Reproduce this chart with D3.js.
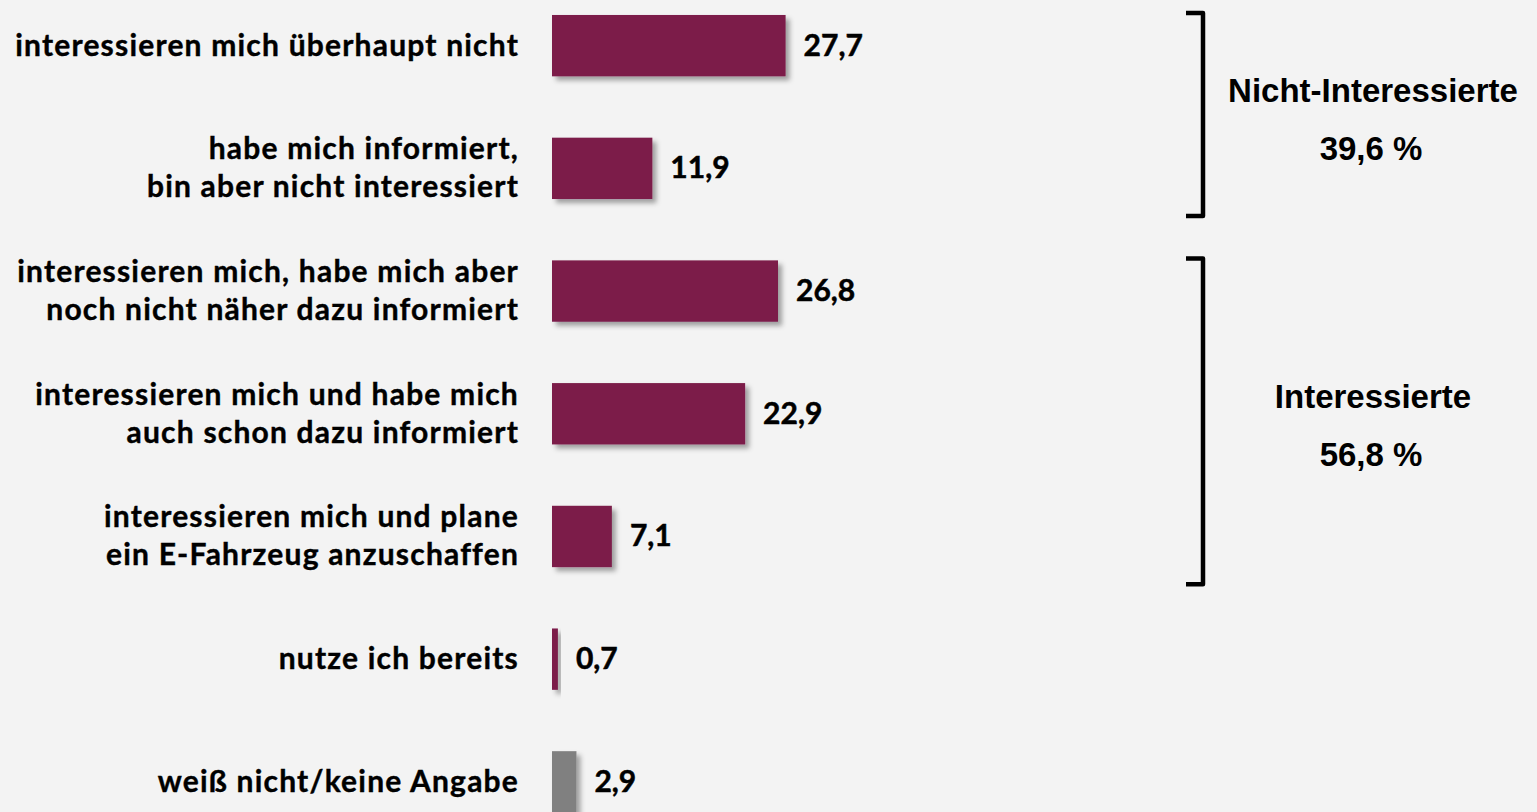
<!DOCTYPE html>
<html>
<head>
<meta charset="utf-8">
<script src="https://cdn.jsdelivr.net/npm/d3@7"></script>
<style>
  html, body { margin: 0; padding: 0; background: #f3f3f3; }
  svg { display: block; }
</style>
</head>
<body>
<div id="chart"></div>
<script>
// answers, one entry per bar (lines of the label)
const answers = [
  ["interessieren mich überhaupt nicht"],
  ["habe mich informiert,", "bin aber nicht interessiert"],
  ["interessieren mich, habe mich aber", "noch nicht näher dazu informiert"],
  ["interessieren mich und habe mich", "auch schon dazu informiert"],
  ["interessieren mich und plane", "ein E-Fahrzeug anzuschaffen"],
  ["nutze ich bereits"],
  ["weiß nicht/keine Angabe"]
];
const shares = [27.7, 11.9, 26.8, 22.9, 7.1, 0.7, 2.9];
const noAnswer = "weiß nicht/keine Angabe";

// bracket groups: first and last answer index
const groupNames = ["Nicht-Interessierte", "Interessierte"];
const groupTotals = ["39,6 %", "56,8 %"];
const groupSpans = [[0, 1], [2, 4]];

const width = 1537, height = 812;
const data = answers.map((lines, i) => ({ id: i, lines, value: shares[i] }));

const de = d3.formatLocale({ decimal: ",", thousands: ".", grouping: [3], currency: ["", " €"] });
const fmt = de.format(".1f");

const svg = d3.select('#chart').append('svg')
  .attr('width', width).attr('height', height);

svg.append('rect').attr('width', width).attr('height', height).attr('fill', '#f3f3f3');

const defs = svg.append('defs');
defs.append('filter').attr('id', 'shadow')
  .attr('x', '-20%').attr('y', '-20%').attr('width', '160%').attr('height', '160%')
  .append('feDropShadow')
  .attr('dx', 4).attr('dy', 4).attr('stdDeviation', 2.5)
  .attr('flood-color', '#000').attr('flood-opacity', 0.35);

const xScale = d3.scaleLinear().domain([0, 30]).range([552, 805]);
const yScale = d3.scaleBand()
  .domain(data.map(d => d.id))
  .range([-15.7, 843.2])
  .paddingInner(0.5)
  .paddingOuter(0.25);

const bw = yScale.bandwidth();

// bars
svg.append('g').selectAll('rect')
  .data(data)
  .join('rect')
  .attr('x', xScale(0))
  .attr('y', d => yScale(d.id))
  .attr('width', d => xScale(d.value) - xScale(0))
  .attr('height', bw)
  .attr('fill', d => d.lines[0] === noAnswer ? '#808080' : '#7b1c4a')
  .attr('filter', 'url(#shadow)');

// value labels
svg.append('g').selectAll('text')
  .data(data)
  .join('text')
  .attr('x', d => xScale(d.value) + 18)
  .attr('y', d => yScale(d.id) + bw / 2 + 10)
  .style('font-family', 'Lato, sans-serif')
  .style('font-weight', 'bold')
  .style('font-size', '30px')
  .attr('fill', '#000')
  .attr('stroke', '#000').attr('stroke-width', 0.5)
  .text(d => fmt(d.value));

// category labels
const lineGap = 38;
const labels = svg.append('g').selectAll('text')
  .data(data)
  .join('text')
  .attr('text-anchor', 'end')
  .style('font-family', 'Lato, sans-serif')
  .style('font-weight', 'bold')
  .style('font-size', '30px')
  .style('letter-spacing', '1.2px')
  .attr('fill', '#000')
  .attr('stroke', '#000').attr('stroke-width', 0.4);

labels.selectAll('tspan')
  .data(d => d.lines.map((t, j) => ({
    t, y: yScale(d.id) + bw / 2 + 10 + (j - (d.lines.length - 1) / 2) * lineGap
  })))
  .join('tspan')
  .attr('x', 519)
  .attr('y', d => d.y)
  .text(d => d.t);

// brackets with group totals
const bx = 1203, arm = 17;
groupSpans.forEach((span, i) => {
  const top = yScale(span[0]) - 2;
  const bottom = yScale(span[1]) + bw + 17;
  const mid = (top + bottom) / 2;

  svg.append('path')
    .attr('d', `M${bx - arm},${top} L${bx},${top} L${bx},${bottom} L${bx - arm},${bottom}`)
    .attr('fill', 'none')
    .attr('stroke', '#000')
    .attr('stroke-width', 4.5)
    .attr('stroke-linejoin', 'round');

  svg.append('text')
    .text(groupNames[i])
    .attr('x', 1373)
    .attr('y', mid - 13)
    .attr('text-anchor', 'middle')
    .style('font-family', '"Liberation Sans", Arial, sans-serif')
    .style('font-weight', 'bold')
    .style('font-size', '33px');

  svg.append('text')
    .text(groupTotals[i])
    .attr('x', 1371)
    .attr('y', mid + 45)
    .attr('text-anchor', 'middle')
    .style('font-family', '"Liberation Sans", Arial, sans-serif')
    .style('font-weight', 'bold')
    .style('font-size', '33px');
});
</script>
</body>
</html>
